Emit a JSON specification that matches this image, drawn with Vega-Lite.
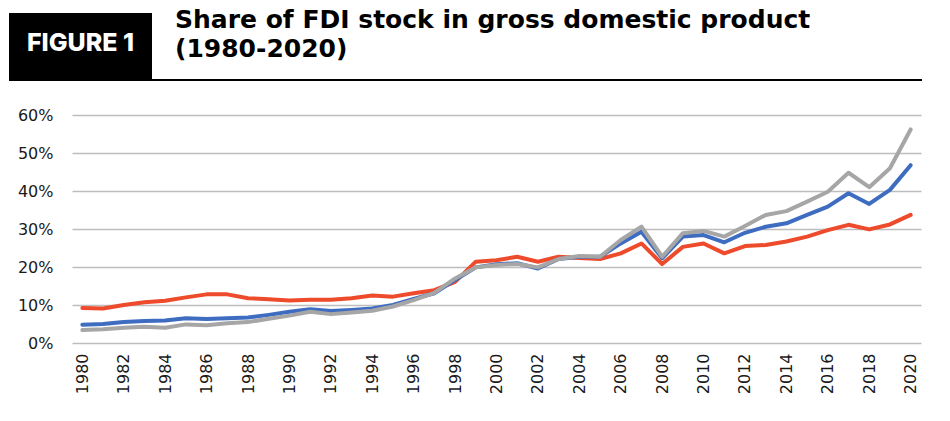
{
  "$schema": "https://vega.github.io/schema/vega-lite/v6.json",
  "background": "white",
  "padding": {"left": 9, "top": 8, "right": 0, "bottom": 0},
  "spacing": 26,
  "config": {"view": {"stroke": null}},
  "vconcat": [
    {
      "spacing": 0,
      "vconcat": [
        {
          "spacing": 23,
          "hconcat": [
            {
              "width": 143,
              "height": 66,
              "view": {"fill": "#000000", "stroke": null},
              "data": {"values": [{"label": "FIGURE 1"}]},
              "mark": {"type": "text", "font": "Inter", "fontWeight": 800, "fontSize": 25, "color": "#ffffff", "align": "center", "baseline": "middle", "dy": -3},
              "encoding": {"text": {"field": "label", "type": "nominal"}}
            },
            {
              "width": 747,
              "height": 66,
              "data": {"values": [{"title": "Share of FDI stock in gross domestic product\n(1980-2020)"}]},
              "mark": {"type": "text", "font": "DejaVu Sans", "fontWeight": "bold", "fontSize": 25, "lineHeight": 29, "lineBreak": "\n", "color": "#000000", "align": "left", "baseline": "top", "dy": -5},
              "encoding": {
                "x": {"datum": 0, "type": "quantitative", "scale": {"domain": [0, 1]}, "axis": null},
                "y": {"datum": 1, "type": "quantitative", "scale": {"domain": [0, 1]}, "axis": null},
                "text": {"field": "title", "type": "nominal"}
              }
            }
          ]
        },
        {
          "width": 913,
          "height": 2,
          "view": {"fill": "#000000", "stroke": null},
          "data": {"values": [{"label": ""}]},
          "mark": {"type": "text", "fontSize": 1},
          "encoding": {"text": {"field": "label", "type": "nominal"}}
        }
      ]
    },
    {
      "spacing": 0,
      "hconcat": [
        {
          "width": 7,
          "height": 1,
          "data": {"values": [{"label": ""}]},
          "mark": {"type": "text", "fontSize": 1},
          "encoding": {"text": {"field": "label", "type": "nominal"}}
        },
        {
          "width": 849,
          "height": 228,
          "data": {"values": [
            {"year": 1980, "series": "A", "share": 9.2}, {"year": 1981, "series": "A", "share": 9.1}, {"year": 1982, "series": "A", "share": 10.0}, {"year": 1983, "series": "A", "share": 10.7}, {"year": 1984, "series": "A", "share": 11.1}, {"year": 1985, "series": "A", "share": 12.0}, {"year": 1986, "series": "A", "share": 12.8}, {"year": 1987, "series": "A", "share": 12.8}, {"year": 1988, "series": "A", "share": 11.8}, {"year": 1989, "series": "A", "share": 11.5}, {"year": 1990, "series": "A", "share": 11.2}, {"year": 1991, "series": "A", "share": 11.4}, {"year": 1992, "series": "A", "share": 11.4}, {"year": 1993, "series": "A", "share": 11.8}, {"year": 1994, "series": "A", "share": 12.5}, {"year": 1995, "series": "A", "share": 12.2}, {"year": 1996, "series": "A", "share": 13.1}, {"year": 1997, "series": "A", "share": 13.9}, {"year": 1998, "series": "A", "share": 16.1}, {"year": 1999, "series": "A", "share": 21.4}, {"year": 2000, "series": "A", "share": 21.8}, {"year": 2001, "series": "A", "share": 22.7}, {"year": 2002, "series": "A", "share": 21.4}, {"year": 2003, "series": "A", "share": 22.7}, {"year": 2004, "series": "A", "share": 22.4}, {"year": 2005, "series": "A", "share": 22.1}, {"year": 2006, "series": "A", "share": 23.6}, {"year": 2007, "series": "A", "share": 26.2}, {"year": 2008, "series": "A", "share": 20.8}, {"year": 2009, "series": "A", "share": 25.3}, {"year": 2010, "series": "A", "share": 26.2}, {"year": 2011, "series": "A", "share": 23.6}, {"year": 2012, "series": "A", "share": 25.5}, {"year": 2013, "series": "A", "share": 25.8}, {"year": 2014, "series": "A", "share": 26.7}, {"year": 2015, "series": "A", "share": 28.0}, {"year": 2016, "series": "A", "share": 29.7}, {"year": 2017, "series": "A", "share": 31.1}, {"year": 2018, "series": "A", "share": 29.9}, {"year": 2019, "series": "A", "share": 31.2}, {"year": 2020, "series": "A", "share": 33.7},
            {"year": 1980, "series": "B", "share": 4.8}, {"year": 1981, "series": "B", "share": 5.0}, {"year": 1982, "series": "B", "share": 5.5}, {"year": 1983, "series": "B", "share": 5.8}, {"year": 1984, "series": "B", "share": 5.9}, {"year": 1985, "series": "B", "share": 6.5}, {"year": 1986, "series": "B", "share": 6.3}, {"year": 1987, "series": "B", "share": 6.5}, {"year": 1988, "series": "B", "share": 6.7}, {"year": 1989, "series": "B", "share": 7.4}, {"year": 1990, "series": "B", "share": 8.2}, {"year": 1991, "series": "B", "share": 8.9}, {"year": 1992, "series": "B", "share": 8.4}, {"year": 1993, "series": "B", "share": 8.7}, {"year": 1994, "series": "B", "share": 9.1}, {"year": 1995, "series": "B", "share": 10.0}, {"year": 1996, "series": "B", "share": 11.6}, {"year": 1997, "series": "B", "share": 13.1}, {"year": 1998, "series": "B", "share": 16.6}, {"year": 1999, "series": "B", "share": 19.9}, {"year": 2000, "series": "B", "share": 20.7}, {"year": 2001, "series": "B", "share": 21.0}, {"year": 2002, "series": "B", "share": 19.6}, {"year": 2003, "series": "B", "share": 22.1}, {"year": 2004, "series": "B", "share": 22.7}, {"year": 2005, "series": "B", "share": 22.7}, {"year": 2006, "series": "B", "share": 26.2}, {"year": 2007, "series": "B", "share": 29.3}, {"year": 2008, "series": "B", "share": 22.3}, {"year": 2009, "series": "B", "share": 28.0}, {"year": 2010, "series": "B", "share": 28.4}, {"year": 2011, "series": "B", "share": 26.5}, {"year": 2012, "series": "B", "share": 29.0}, {"year": 2013, "series": "B", "share": 30.6}, {"year": 2014, "series": "B", "share": 31.5}, {"year": 2015, "series": "B", "share": 33.7}, {"year": 2016, "series": "B", "share": 35.9}, {"year": 2017, "series": "B", "share": 39.4}, {"year": 2018, "series": "B", "share": 36.6}, {"year": 2019, "series": "B", "share": 40.3}, {"year": 2020, "series": "B", "share": 46.8},
            {"year": 1980, "series": "C", "share": 3.4}, {"year": 1981, "series": "C", "share": 3.6}, {"year": 1982, "series": "C", "share": 4.0}, {"year": 1983, "series": "C", "share": 4.3}, {"year": 1984, "series": "C", "share": 4.0}, {"year": 1985, "series": "C", "share": 4.9}, {"year": 1986, "series": "C", "share": 4.7}, {"year": 1987, "series": "C", "share": 5.2}, {"year": 1988, "series": "C", "share": 5.5}, {"year": 1989, "series": "C", "share": 6.4}, {"year": 1990, "series": "C", "share": 7.2}, {"year": 1991, "series": "C", "share": 8.2}, {"year": 1992, "series": "C", "share": 7.6}, {"year": 1993, "series": "C", "share": 8.0}, {"year": 1994, "series": "C", "share": 8.5}, {"year": 1995, "series": "C", "share": 9.6}, {"year": 1996, "series": "C", "share": 11.3}, {"year": 1997, "series": "C", "share": 13.2}, {"year": 1998, "series": "C", "share": 17.0}, {"year": 1999, "series": "C", "share": 19.9}, {"year": 2000, "series": "C", "share": 20.5}, {"year": 2001, "series": "C", "share": 20.8}, {"year": 2002, "series": "C", "share": 19.9}, {"year": 2003, "series": "C", "share": 22.1}, {"year": 2004, "series": "C", "share": 22.9}, {"year": 2005, "series": "C", "share": 22.7}, {"year": 2006, "series": "C", "share": 27.1}, {"year": 2007, "series": "C", "share": 30.6}, {"year": 2008, "series": "C", "share": 22.7}, {"year": 2009, "series": "C", "share": 28.9}, {"year": 2010, "series": "C", "share": 29.5}, {"year": 2011, "series": "C", "share": 28.0}, {"year": 2012, "series": "C", "share": 30.8}, {"year": 2013, "series": "C", "share": 33.7}, {"year": 2014, "series": "C", "share": 34.7}, {"year": 2015, "series": "C", "share": 37.2}, {"year": 2016, "series": "C", "share": 39.8}, {"year": 2017, "series": "C", "share": 44.8}, {"year": 2018, "series": "C", "share": 41.0}, {"year": 2019, "series": "C", "share": 46.0}, {"year": 2020, "series": "C", "share": 56.2}
          ]},
          "mark": {"type": "line", "strokeWidth": 4, "strokeCap": "round", "strokeJoin": "round"},
          "encoding": {
            "x": {
              "field": "year",
              "type": "ordinal",
              "scale": {"type": "point", "padding": 0.5},
              "axis": {
                "values": [1980, 1982, 1984, 1986, 1988, 1990, 1992, 1994, 1996, 1998, 2000, 2002, 2004, 2006, 2008, 2010, 2012, 2014, 2016, 2018, 2020],
                "labelAngle": -90,
                "labelFont": "DejaVu Sans",
                "labelFontSize": 16,
                "labelColor": "#1a1a1a",
                "labelPadding": 10,
                "ticks": false,
                "domain": false,
                "grid": false,
                "title": null
              }
            },
            "y": {
              "field": "share",
              "type": "quantitative",
              "scale": {"domain": [0, 60]},
              "axis": {
                "values": [0, 10, 20, 30, 40, 50, 60],
                "labelExpr": "datum.value + '%'",
                "labelFont": "DejaVu Sans",
                "labelFontSize": 16,
                "labelColor": "#1a1a1a",
                "labelPadding": 19,
                "minExtent": 56,
                "ticks": false,
                "domain": false,
                "grid": true,
                "gridColor": "#bdbdbd",
                "gridWidth": 1.5,
                "title": null
              }
            },
            "color": {
              "field": "series",
              "type": "nominal",
              "scale": {"domain": ["A", "B", "C"], "range": ["#ee4a2c", "#3d6cc0", "#a6a6a6"]},
              "legend": null
            }
          }
        }
      ]
    }
  ]
}
